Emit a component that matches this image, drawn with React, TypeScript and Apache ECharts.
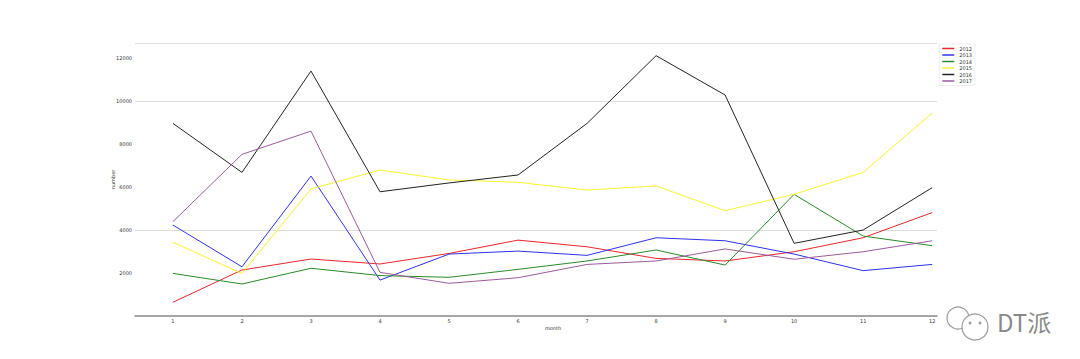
import React, { useEffect, useRef } from "react";
import * as echarts from "echarts";

const months = [1, 2, 3, 4, 5, 6, 7, 8, 9, 10, 11, 12];
const seriesNames = ["2012", "2013", "2014", "2015", "2016", "2017"];
const s2012 = [640, 2140, 2650, 2420, 2910, 3530, 3220, 2680, 2560, 2990, 3640, 4810];
const s2013 = [4230, 2290, 6510, 1670, 2880, 3020, 2820, 3640, 3500, 2880, 2110, 2400];
const s2014 = [1980, 1490, 2220, 1880, 1800, 2170, 2560, 3070, 2370, 5660, 3720, 3270];
const s2015 = [3430, 1980, 5910, 6790, 6330, 6220, 5860, 6050, 4900, 5660, 6680, 9440];
const s2016 = [8960, 6680, 11395, 5780, 6190, 6560, 8960, 12110, 10280, 3380, 4000, 5970];
const s2017 = [4390, 7520, 8600, 2030, 1520, 1780, 2400, 2560, 3120, 2640, 2990, 3500];
const yTicks = [2000, 4000, 6000, 8000, 10000, 12000];
const gridLines = [4000, 10000, 12700];

const colors = ["#e8262a", "#3030e8", "#2a8a2a", "#f5f530", "#222222", "#9a5a9a"];
const allData = [s2012, s2013, s2014, s2015, s2016, s2017];

export default function App() {
  const ref = useRef<HTMLDivElement>(null);
  useEffect(() => {
    if (!ref.current) return;
    const chart = echarts.init(ref.current, undefined, { renderer: "svg" });
    const series: any[] = seriesNames.map((name, i) => ({
      name,
      type: "line",
      data: months.map((m, j) => [m, allData[i][j]]),
      symbol: "none",
      lineStyle: { color: colors[i], width: 1 },
      itemStyle: { color: colors[i] },
      z: 3,
    }));
    series[0].markLine = {
      silent: true,
      symbol: "none",
      label: { show: false },
      lineStyle: { color: "#dddddd", type: "solid", width: 1 },
      data: gridLines.map((v) => ({ yAxis: v })),
      z: 1,
    };
    chart.setOption({
      animation: false,
      backgroundColor: "#ffffff",
      grid: { left: 135, right: 143, top: 43, bottom: 43 },
      legend: {
        orient: "vertical",
        right: 105,
        top: 44,
        icon: "rect",
        itemWidth: 12,
        itemHeight: 1.5,
        itemGap: 1.5,
        padding: [2, 3, 2, 3],
        borderColor: "#dddddd",
        borderWidth: 0.5,
        textStyle: { fontSize: 5, color: "#333", fontFamily: "DejaVu Sans" },
        data: seriesNames,
      },
      xAxis: {
        type: "value",
        min: 0.45,
        max: 12.07,
        splitNumber: 12,
        name: "month",
        nameLocation: "middle",
        nameGap: 9,
        nameMoveOverlap: false,
        nameTextStyle: { fontSize: 5, color: "#333", fontFamily: "DejaVu Sans", padding: [0, 0, 0, 34] },
        axisLine: { lineStyle: { color: "#888", width: 1.5 } },
        axisTick: { show: false },
        splitLine: { show: false },
        axisLabel: {
          fontSize: 5,
          color: "#333",
          margin: 2,
          fontFamily: "DejaVu Sans",
          showMinLabel: false,
          showMaxLabel: false,
          formatter: (v: number) => (Number.isInteger(v) && months.includes(v) ? String(v) : ""),
        },
      },
      yAxis: {
        type: "value",
        min: 0,
        max: 12700,
        interval: 2000,
        name: "number",
        nameLocation: "middle",
        nameGap: 20,
        nameMoveOverlap: false,
        nameRotate: 90,
        nameTextStyle: { fontSize: 5, color: "#333", fontFamily: "DejaVu Sans" },
        axisLine: { show: false },
        axisTick: { show: false },
        splitLine: { show: false },
        axisLabel: {
          fontSize: 5,
          color: "#333",
          margin: 3,
          fontFamily: "DejaVu Sans",
          showMinLabel: false,
          showMaxLabel: false,
          formatter: (v: number) => (yTicks.includes(v) ? String(v) : ""),
        },
      },
      graphic: [
        {
          type: "circle",
          shape: { cx: 958, cy: 318, r: 11 },
          style: { fill: "rgba(255,255,255,0.8)", stroke: "#9a9a9a", lineWidth: 1.2 },
          z: 10,
        },
        {
          type: "circle",
          shape: { cx: 975, cy: 327, r: 13 },
          style: { fill: "#ffffff", stroke: "#9a9a9a", lineWidth: 1.2 },
          z: 11,
        },
        { type: "circle", shape: { cx: 970, cy: 323, r: 1.4 }, style: { fill: "#9a9a9a" }, z: 12 },
        { type: "circle", shape: { cx: 980, cy: 323, r: 1.4 }, style: { fill: "#9a9a9a" }, z: 12 },
        {
          type: "text",
          left: 997,
          top: 309,
          style: { text: "DT派", fontSize: 24, fill: "#8a8a8a", fontFamily: "Noto Sans CJK SC" },
          z: 12,
        },
      ],
      series,
    });
    return () => chart.dispose();
  }, []);
  return <div ref={ref} style={{ width: 1080, height: 359, margin: -8 }} />;
}
